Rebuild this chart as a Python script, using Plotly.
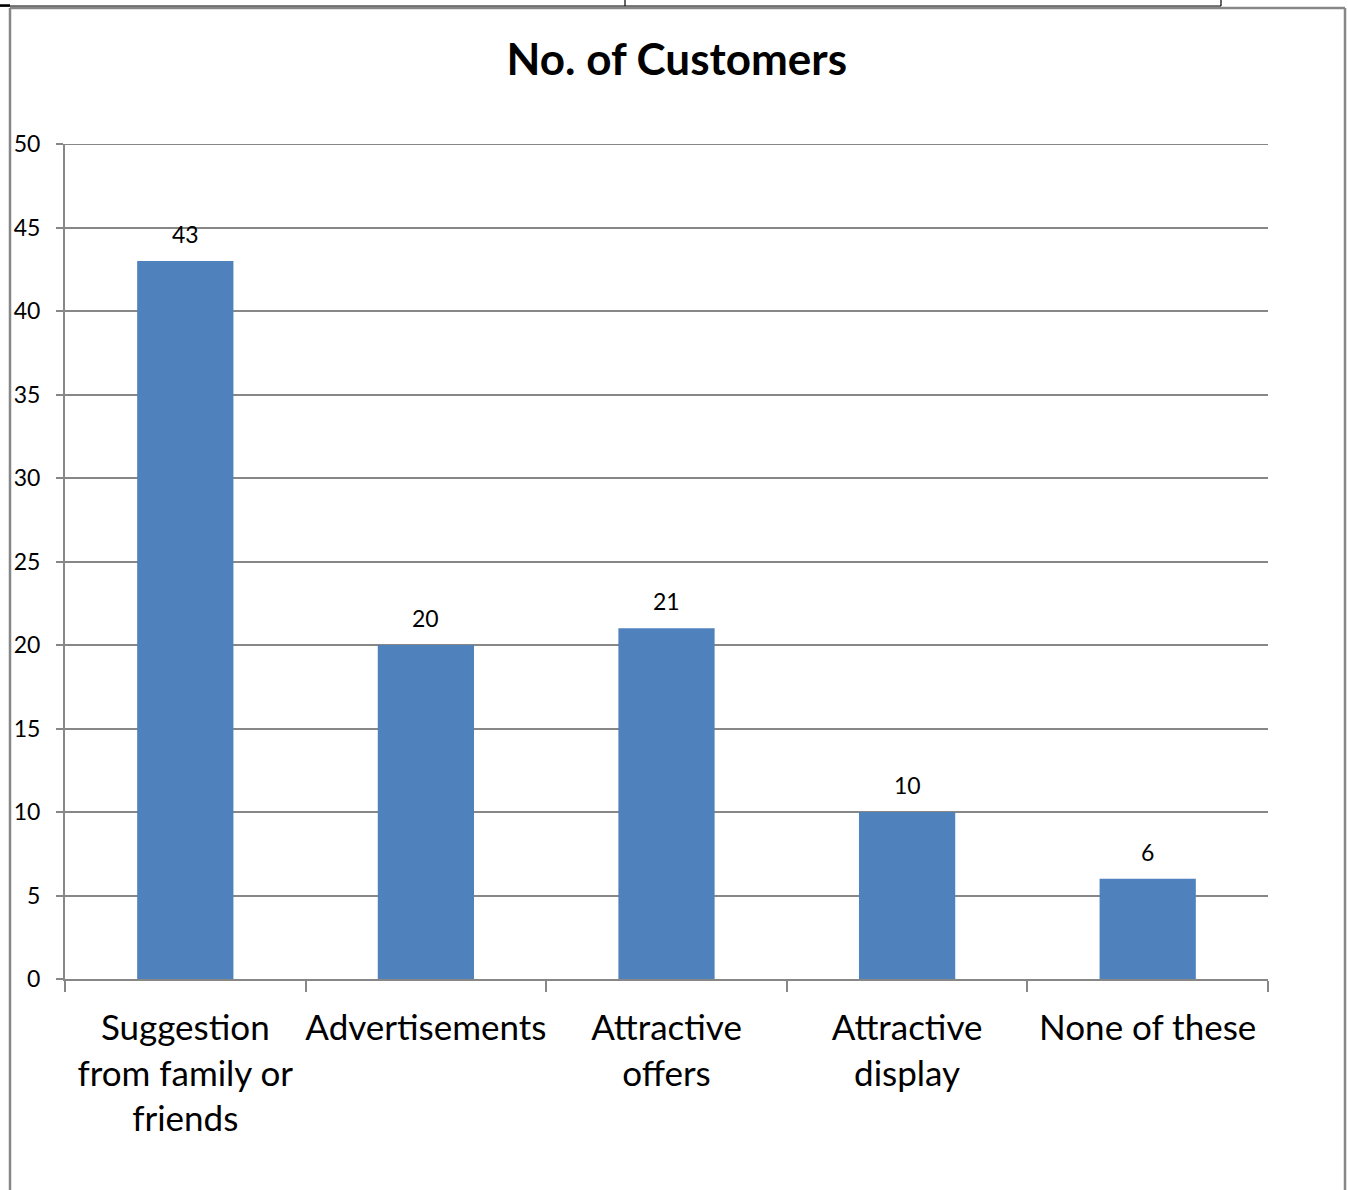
import plotly.graph_objects as go

# Survey results: what brought customers in
categories = [
    "Suggestion<br>from family or<br>friends",
    "Advertisements",
    "Attractive<br>offers",
    "Attractive<br>display",
    "None of these",
]
customers = [43, 20, 21, 10, 6]
y_ticks = [0, 5, 10, 15, 20, 25, 30, 35, 40, 45, 50]

FONT = "Lato, 'Open Sans', sans-serif"
GRID = "#878787"
BAR = "#4F81BD"

W, H = 1348, 1190
L, R, T, B = 65, 80, 144, 211
PW, PH = W - L - R, H - T - B


def px(x):
    return (x - L) / PW


def py(y):
    return (H - B - y) / PH


fig = go.Figure(
    go.Bar(
        x=categories,
        y=customers,
        marker=dict(color=BAR, line=dict(width=0)),
        hoverinfo="x+y",
    )
)

# value labels above each bar
for c, v in zip(categories, customers):
    fig.add_annotation(
        x=c, y=v, xref="x", yref="y",
        text=str(v), showarrow=False,
        yanchor="middle", yshift=27,
        font=dict(family=FONT, size=23, color="#000000"),
    )

# chart frame and the table rule above it
shapes = [
    dict(type="line", x0=px(10), x1=px(10), y0=py(8), y1=py(H + 5),
         line=dict(color=GRID, width=2.5)),
    dict(type="line", x0=px(10), x1=px(1345), y0=py(8), y1=py(8),
         line=dict(color=GRID, width=2.5)),
    dict(type="line", x0=px(1345), x1=px(1345), y0=py(8), y1=py(H + 5),
         line=dict(color=GRID, width=2.5)),
    dict(type="line", x0=px(0), x1=px(1221), y0=py(6), y1=py(6),
         line=dict(color="#000000", width=1.2)),
    dict(type="line", x0=px(0), x1=px(10), y0=py(5.5), y1=py(5.5),
         line=dict(color="#000000", width=2.5)),
    dict(type="line", x0=px(625), x1=px(625), y0=py(-2), y1=py(6),
         line=dict(color="#000000", width=1.2)),
    dict(type="line", x0=px(1221), x1=px(1221), y0=py(-2), y1=py(6),
         line=dict(color="#000000", width=1.2)),
]
for s in shapes:
    s.update(xref="paper", yref="paper", layer="above")

# gridline along the top of the value range
shapes.append(dict(type="line", xref="paper", yref="y", x0=0, x1=1,
                   y0=y_ticks[-1], y1=y_ticks[-1], layer="below",
                   line=dict(color=GRID, width=2)))

fig.update_layout(
    width=W, height=H,
    margin=dict(l=L, r=R, t=T, b=B, pad=0, autoexpand=False),
    paper_bgcolor="#ffffff",
    plot_bgcolor="#ffffff",
    bargap=0.6,
    showlegend=False,
    shapes=shapes,
    title=dict(
        text="<b>No. of Customers</b>",
        x=px(669), xanchor="center",
        y=1 - 60 / H, yanchor="middle",
        font=dict(family=FONT, size=44, color="#000000"),
    ),
    xaxis=dict(
        type="category",
        automargin=False,
        tickangle=0,
        showline=True, linecolor=GRID, linewidth=2,
        ticks="outside", tickson="boundaries", ticklen=11,
        tickcolor=GRID, tickwidth=2,
        showgrid=False,
        ticklabelstandoff=17,
        tickfont=dict(family=FONT, size=35, color="#000000"),
    ),
    yaxis=dict(
        range=[0, 50],
        automargin=False,
        tickvals=y_ticks,
        ticktext=[str(t) for t in y_ticks],
        showline=True, linecolor=GRID, linewidth=2,
        ticks="outside", ticklen=7, tickcolor=GRID, tickwidth=2,
        showgrid=True, gridcolor=GRID, gridwidth=2,
        zeroline=False,
        ticklabelstandoff=11,
        tickfont=dict(family=FONT, size=23, color="#000000"),
    ),
)

fig.write_html("out.html")
